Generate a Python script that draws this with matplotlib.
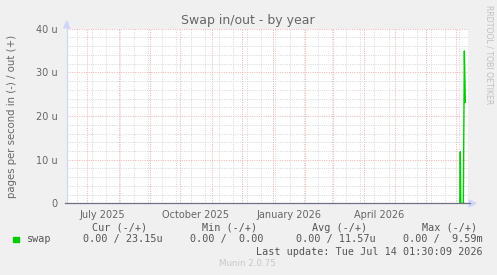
import matplotlib
matplotlib.use("Agg")
import matplotlib.pyplot as plt
import matplotlib.dates as mdates
from matplotlib.patches import Polygon, Rectangle
import numpy as np
import pandas as pd

# ---- data ----
title = "Swap in/out - by year"
ylabel = "pages per second in (-) / out (+)"
sample_times = ["2026-07-04 12:00", "2026-07-05 00:00", "2026-07-05 12:00",
                "2026-07-08 00:00", "2026-07-09 00:00", "2026-07-10 00:00"]
swap_out_u = [0.0, 11.8, 0.0, 0.0, 34.9, 23.15]   # micro pages/s
swap_in_u = [0.0, 0.0, 0.0, 0.0, 0.0, 0.0]
y_ticks = [0, 10, 20, 30, 40]
y_ticklabels = ["0", "10 u", "20 u", "30 u", "40 u"]
x_label_dates = ["2025-07-16", "2025-10-16", "2026-01-16", "2026-04-16"]
x_labels = ["July 2025", "October 2025", "January 2026", "April 2026"]
x_start, x_end = "2025-06-10 10:00", "2026-07-12 15:00"
legend_name = "swap"
legend_headers = ["Cur (-/+)", "Min (-/+)", "Avg (-/+)", "Max (-/+)"]
legend_values = ["0.00 / 23.15u", "0.00 /  0.00", "0.00 / 11.57u", "0.00 /  9.59m"]
last_update = "Last update: Tue Jul 14 01:30:09 2026"
footer = "Munin 2.0.75"
side_text = "RRDTOOL / TOBI OETIKER"

W, H = 497, 275
BG = "#F0F0F0"
FONT = "#666666"
LINE = "#00CC00"
AXIS = "#CFD6F8"

fig = plt.figure(figsize=(W / 100, H / 100), dpi=100, facecolor=BG)

def fx(px):
    return px / W

def fy(py):
    return 1 - py / H

left, right, top, bottom = 66.7, 468.0, 28.7, 203.4
ax = fig.add_axes([fx(left), fy(bottom), fx(right) - fx(left), fy(top) - fy(bottom)])
ax.set_facecolor("white")
for s in ax.spines.values():
    s.set_visible(False)

t = pd.to_datetime(sample_times)
ax.set_xlim(pd.Timestamp(x_start), pd.Timestamp(x_end))
ax.set_ylim(0, 40)

GRID = "#D0D0D0"
MGRID = "#F0A8A8"
dots = (0, (1.2, 1.6))
minor_y = np.arange(0, 41, 2)
for v in minor_y:
    if v % 10:
        ax.axhline(v, color=GRID, lw=0.6, ls=dots, zorder=1)
for v in y_ticks:
    ax.axhline(v, color=MGRID, lw=0.6, ls=dots, zorder=1.5)
minor_x = pd.date_range("2025-06-21", "2026-07-12", freq="14D")
for d in minor_x:
    ax.axvline(d, color=GRID, lw=0.6, ls=dots, zorder=1)
major_x = pd.date_range("2025-07-01", "2026-07-01", freq="MS")
for d in major_x:
    ax.axvline(d, color=MGRID, lw=0.6, ls=dots, zorder=1.5)

ax.plot(t, swap_out_u, color=LINE, lw=1.0, zorder=3)
ax.plot(t, -np.array(swap_in_u), color=LINE, lw=1.0, zorder=3)

ax.set_yticks(y_ticks)
ax.set_yticklabels(y_ticklabels)
ax.set_xticks(pd.to_datetime(x_label_dates))
ax.set_xticklabels(x_labels)
ax.tick_params(axis="both", length=0, labelsize=7, colors=FONT)
ax.tick_params(axis="y", pad=6.5)
ax.tick_params(axis="x", pad=5)

# axes lines and arrows
fig.add_artist(plt.Line2D([fx(left), fx(left)], [fy(bottom), fy(22)], color=AXIS, lw=0.9))
fig.add_artist(plt.Line2D([fx(left - 2), fx(470)], [fy(bottom), fy(bottom)], color="#707088", lw=0.9))
fig.add_artist(Polygon([[fx(left - 3), fy(28)], [fx(left + 3), fy(28)], [fx(left), fy(21)]],
                       closed=True, color=AXIS, transform=fig.transFigure))
fig.add_artist(Polygon([[fx(469), fy(bottom - 3.5)], [fx(469), fy(bottom + 3.5)], [fx(476), fy(bottom)]],
                       closed=True, color=AXIS, transform=fig.transFigure))

# texts
fig.text(fx(248), fy(24.3), title, ha="center", va="baseline", fontsize=9, color=FONT)
fig.text(fx(12.5), fy(116), ylabel, ha="center", va="center", rotation=90, fontsize=7.3, color=FONT)
fig.text(fx(488.5), fy(5), side_text, ha="center", va="top", rotation=270, fontsize=5.6, color="#C0C0C0")

mono = "DejaVu Sans Mono"
hdr_right = [146.7, 257.0, 367.0, 476.7]
val_right = [162.3, 263.3, 376.0, 483.0]
for h, x in zip(legend_headers, hdr_right):
    fig.text(fx(x), fy(227.7), h, ha="right", va="center", fontsize=7.3, family=mono, color="#555555")
for v, x in zip(legend_values, val_right):
    fig.text(fx(x), fy(239.3), v, ha="right", va="center", fontsize=7.3, family=mono, color="#555555")
fig.add_artist(Rectangle((fx(13.3), fy(241.7)), fx(6), 5 / H, color=LINE, transform=fig.transFigure))
fig.text(fx(26.7), fy(239.3), legend_name, ha="left", va="center", fontsize=7.3, family=mono, color="#555555")
fig.text(fx(482.5), fy(251.7), last_update, ha="right", va="center", fontsize=7.3, family=mono, color="#555555")
fig.text(fx(247.7), fy(264), footer, ha="center", va="center", fontsize=6.3, color="#C8C8C8")

fig.savefig("out.png", dpi=100, facecolor=BG)
